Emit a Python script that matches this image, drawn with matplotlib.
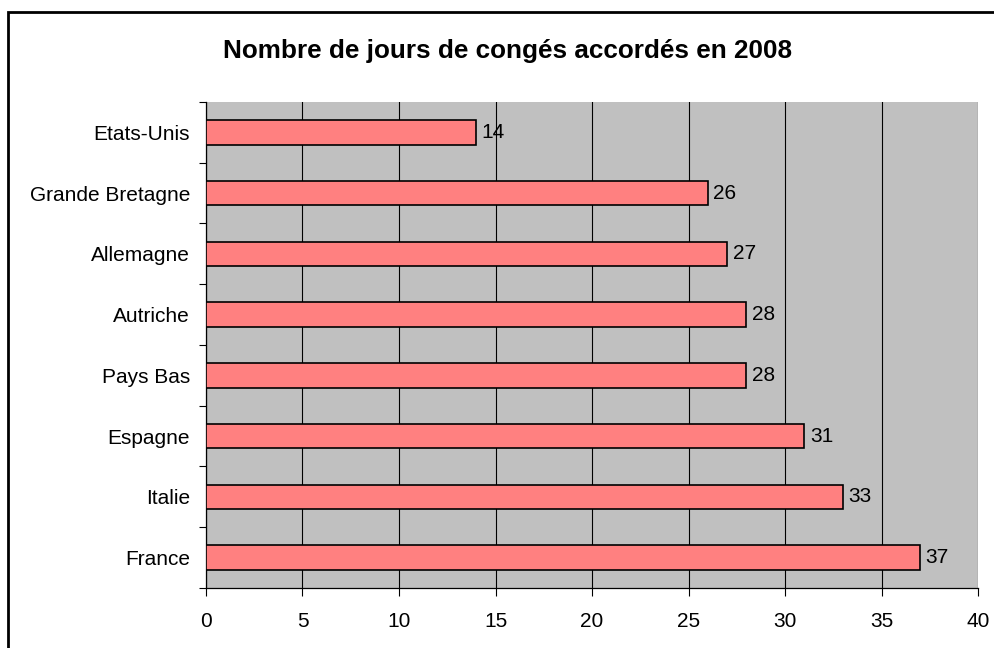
import matplotlib.pyplot as plt
from matplotlib.patches import Rectangle

plt.rcParams['font.family'] = ['Liberation Sans', 'DejaVu Sans']

pays = ['Etats-Unis', 'Grande Bretagne', 'Allemagne', 'Autriche',
        'Pays Bas', 'Espagne', 'Italie', 'France']
jours = [14, 26, 27, 28, 28, 31, 33, 37]
x_ticks = [0, 5, 10, 15, 20, 25, 30, 35, 40]

fig = plt.figure(figsize=(9.95, 6.48), dpi=100)
# cadre du graphique (seuls les bords haut et gauche sont visibles)
fig.patches.append(Rectangle((8 / 995, -0.1), 1.2, 0.1 + (648 - 12) / 648,
                             transform=fig.transFigure, fill=False,
                             edgecolor='black', linewidth=2.0))

ax = fig.add_axes([0.207, 0.0926, 0.776, 0.75])
ax.set_facecolor('#C0C0C0')

pos = list(range(len(pays)))
ax.barh(pos, jours, height=0.4, color='#FF8080', edgecolor='black',
        linewidth=1.2, zorder=3)
for p, v in zip(pos, jours):
    ax.text(v + 0.28, p, str(v), va='center', ha='left', fontsize=15, zorder=4)

ax.set_xlim(0, 40)
ax.set_ylim(len(pays) - 0.5, -0.5)
ax.set_xticks(x_ticks)
ax.xaxis.grid(True, color='black', linewidth=0.8, zorder=1)
ax.set_axisbelow(True)

ax.set_yticks(pos)
ax.set_yticklabels(pays)
ax.set_yticks([i - 0.5 for i in range(len(pays) + 1)], minor=True)
ax.tick_params(axis='y', which='major', length=0, pad=11.5, labelsize=15)
ax.tick_params(axis='y', which='minor', length=5, width=0.8, direction='out')
ax.tick_params(axis='x', length=6, width=0.8, pad=11, labelsize=15)

for s in ['top', 'right']:
    ax.spines[s].set_visible(False)
ax.spines['left'].set_linewidth(0.9)
ax.spines['bottom'].set_linewidth(0.9)

fig.text(0.51, 0.922, 'Nombre de jours de congés accordés en 2008',
         ha='center', va='center', fontsize=18.8, fontweight='bold')

fig.savefig('out.png', dpi=100)
